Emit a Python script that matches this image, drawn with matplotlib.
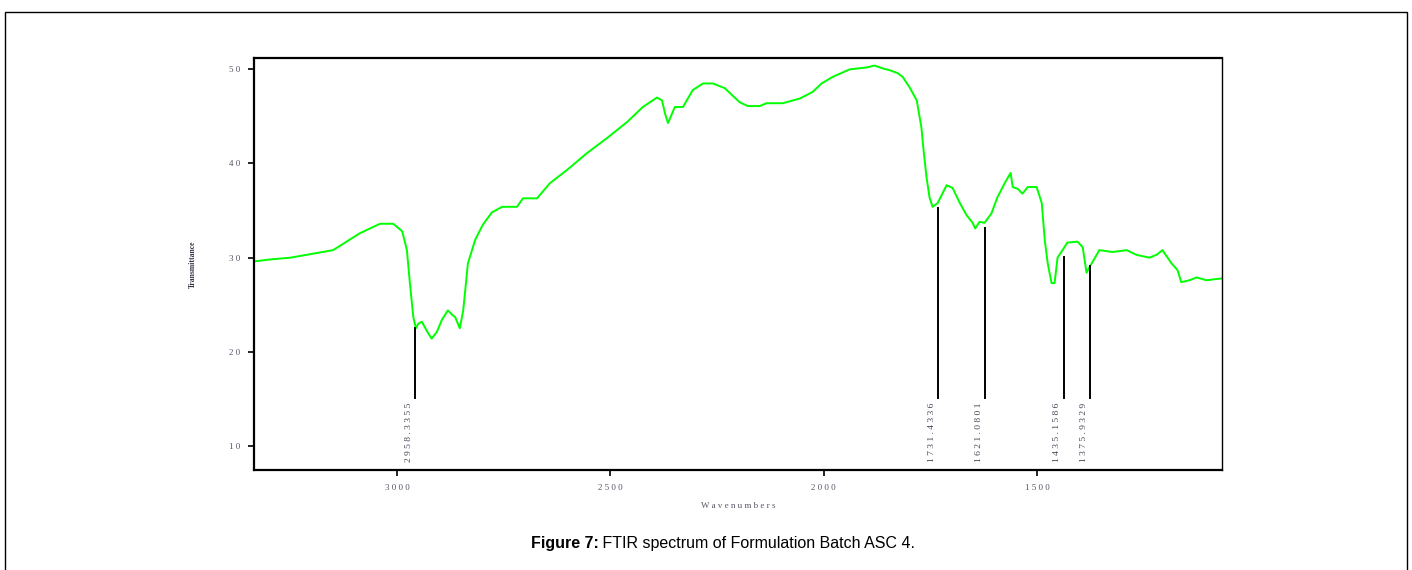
import numpy as np
import matplotlib
matplotlib.use("Agg")
from matplotlib import pyplot as plt
from matplotlib.patches import Rectangle

# Spectrum (wavenumber cm-1, % transmittance)
wavenumber = [3335, 3300, 3250, 3200, 3150, 3087, 3040, 3009, 2988, 2977, 2970,
              2962, 2956, 2950, 2942, 2930, 2919, 2907, 2895, 2881, 2870, 2864,
              2853, 2845, 2834, 2817, 2799, 2778, 2754, 2719, 2705, 2672, 2642,
              2602, 2555, 2508, 2461, 2424, 2391, 2379, 2372, 2365, 2349, 2330,
              2307, 2283, 2260, 2232, 2197, 2178, 2150, 2134, 2096, 2056, 2026,
              2005, 1979, 1939, 1899, 1881, 1862, 1845, 1827, 1815, 1799, 1782,
              1771, 1766, 1759, 1752, 1745, 1733, 1712, 1698, 1681, 1665, 1651,
              1645, 1635, 1623, 1607, 1593, 1576, 1562, 1557, 1545, 1534, 1522,
              1501, 1489, 1482, 1475, 1466, 1459, 1452, 1436, 1429, 1405, 1393,
              1384, 1377, 1354, 1323, 1290, 1267, 1237, 1220, 1206, 1185, 1171,
              1162, 1143, 1126, 1103, 1067]
transmittance = [29.6, 29.8, 30.0, 30.4, 30.8, 32.6, 33.6, 33.6, 32.8, 30.8, 27.3,
                 23.7, 22.5, 23.0, 23.2, 22.2, 21.4, 22.1, 23.4, 24.4, 23.9, 23.7,
                 22.5, 24.4, 29.4, 31.9, 33.5, 34.8, 35.4, 35.4, 36.3, 36.3, 37.9,
                 39.3, 41.1, 42.7, 44.4, 46.0, 47.0, 46.7, 45.3, 44.3, 46.0, 46.0,
                 47.8, 48.5, 48.5, 48.0, 46.5, 46.1, 46.1, 46.4, 46.4, 46.9, 47.6,
                 48.5, 49.2, 50.0, 50.2, 50.4, 50.1, 49.9, 49.6, 49.2, 48.1, 46.7,
                 43.8, 41.4, 38.5, 36.4, 35.4, 35.8, 37.7, 37.4, 35.8, 34.5, 33.7,
                 33.1, 33.8, 33.7, 34.7, 36.4, 37.9, 39.0, 37.5, 37.3, 36.8, 37.5,
                 37.5, 35.8, 31.9, 29.4, 27.3, 27.3, 30.0, 31.1, 31.6, 31.7, 31.1,
                 28.4, 29.0, 30.8, 30.6, 30.8, 30.3, 30.0, 30.3, 30.8, 29.4, 28.7,
                 27.4, 27.6, 27.9, 27.6, 27.8]

# Marked peaks
peak_wn = [2958, 1733, 1623, 1438, 1375]
peak_top = [22.5, 35.3, 33.1, 30.1, 29.1]
peak_labels = ["2958.3355", "1731.4336", "1621.0801", "1435.1586", "1375.9329"]
line_bottom = 15.1

xticks = [3000, 2500, 2000, 1500]
yticks = [10, 20, 30, 40, 50]

fig = plt.figure(figsize=(14.12, 5.70), dpi=100)
ax = fig.add_axes([0.180, 0.1754, 0.6856, 0.7228])

ax.plot(wavenumber, transmittance, color="#00ff00", linewidth=1.4)
for wn, top, lab in zip(peak_wn, peak_top, peak_labels):
    ax.plot([wn, wn], [line_bottom, top], color="black", linewidth=1.4)
    ax.annotate(" ".join(lab), xy=(wn, 14.6), xytext=(-1.5, 0), textcoords="offset points",
                rotation=90, ha="right", va="top", fontsize=6.8,
                family="Liberation Serif", color="#444455")

ax.set_xlim(3335, 1066)
ax.set_ylim(7.45, 51.2)
ax.set_xticks(xticks)
ax.set_xticklabels([" ".join(str(t)) for t in xticks])
ax.set_yticks(yticks)
ax.set_yticklabels([" ".join(str(t)) for t in yticks])
ax.tick_params(direction="out", length=4, width=1.2, labelsize=6.5,
               labelcolor="#555566", pad=6)
for lab in ax.get_xticklabels() + ax.get_yticklabels():
    lab.set_family("Liberation Serif")

for side in ["left", "top", "bottom"]:
    ax.spines[side].set_linewidth(1.6)
ax.spines["right"].set_linewidth(1.0)

ax.set_xlabel("W a v e n u m b e r s", fontsize=6.5, family="Liberation Serif",
              color="#555566", labelpad=7)
ax.set_ylabel("Transmittance", fontsize=5.5, family="Liberation Serif",
              color="#333344", labelpad=23, fontweight="bold")

# outer frame
fig.patches.append(Rectangle((5 / 1412, -0.05), 1402 / 1412, 1.05 - 12 / 570,
                             transform=fig.transFigure, fill=False,
                             edgecolor="black", linewidth=1.0))

# caption: bold prefix + normal text, centred as a whole
cap_size = 11.5
t1 = fig.text(0.0, 0.047, "Figure 7:", fontsize=cap_size, fontweight="bold",
              family="Liberation Sans", ha="left", va="center")
t2 = fig.text(0.0, 0.047, " FTIR spectrum of Formulation Batch ASC 4.", fontsize=cap_size,
              family="Liberation Sans", ha="left", va="center")
fig.canvas.draw()
r = fig.canvas.get_renderer()
w1 = t1.get_window_extent(r).width / fig.bbox.width
w2 = t2.get_window_extent(r).width / fig.bbox.width
x0 = 0.512 - (w1 + w2) / 2
t1.set_x(x0)
t2.set_x(x0 + w1)

fig.savefig("out.png", dpi=100)
